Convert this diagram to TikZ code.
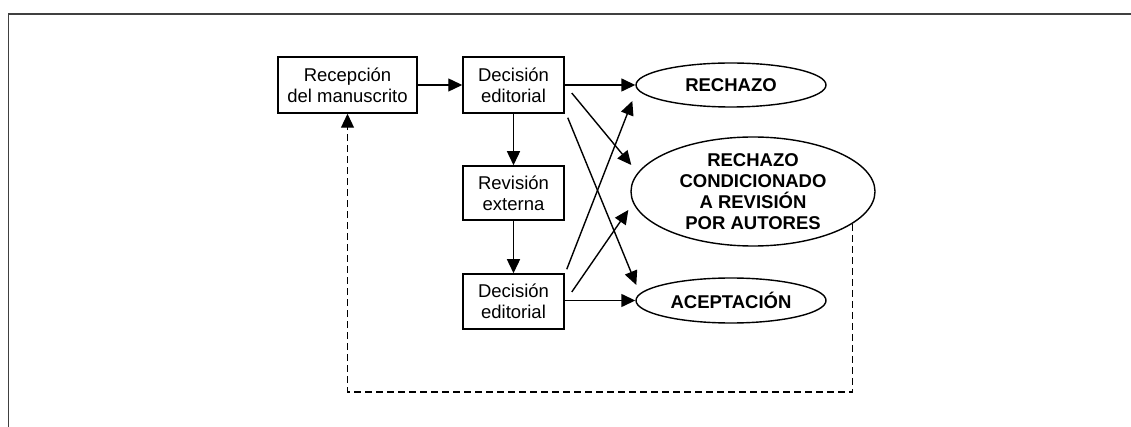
\documentclass[tikz,border=0pt]{standalone}
\usepackage{fontspec}
\setmainfont{Liberation Sans}
\usetikzlibrary{arrows.meta,shapes.geometric,calc}
\tikzset{
  box/.style={draw, line width=1.5pt, minimum width=101pt, minimum height=56pt, inner sep=0pt, align=center, font=\fontsize{18.5}{21}\selectfont},
  oval/.style={draw, ellipse, line width=1.4pt, inner sep=0pt},
  ovaltext/.style={align=center, inner sep=0pt, font=\fontsize{18.5}{21}\selectfont\bfseries},
  arr/.style={line width=1.4pt, -{Triangle[length=14pt,width=13pt]}},
  dashline/.style={line width=1.2pt, dash pattern=on 7pt off 4pt},
  frame/.style={line width=1.6pt, draw=black!75}
}
\begin{document}
\begin{tikzpicture}[x=1pt,y=-1pt]
\useasboundingbox (0,0) rectangle (1131,427);
\draw[frame] (8.5,427) -- (8.5,14) -- (1131,14);

\node[box, minimum width=139pt] (b1) at (347.5,85) {Recepción\\del manuscrito};
\node[box] (b2) at (513.5,85) {Decisión\\editorial};
\node[box, minimum height=54pt] (b3) at (513.5,193) {Revisión\\externa};
\node[box, minimum height=55pt] (b4) at (513.5,301.5) {Decisión\\editorial};

\node[oval, minimum width=190pt, minimum height=44pt] (e1) at (731,85) {};
\node[ovaltext] (t1) at (e1) {RECHAZO};
\node[oval, minimum width=244pt, minimum height=109pt] (e2) at (753,191.5) {};
\node[ovaltext] (t2) at (e2) {RECHAZO\\CONDICIONADO\\A REVISIÓN\\POR AUTORES};
\node[oval, minimum width=190pt, minimum height=45pt] (e3) at (731,300.5) {};
\node[ovaltext] (t3) at (e3) {ACEPTACIÓN};

\draw[arr] (b1) -- (b2);
\draw[arr] (b2) -- (e1);
\draw[arr] (b2) -- (b3);
\draw[arr] (b3) -- (b4);
\draw[arr] (b4.east |- e3.west) -- (e3.west);

\coordinate (s1) at ($(b2.east)+(7,8)$);
\coordinate (t2a) at ($(e2.west)+(1,-26.5)$);
\coordinate (s2) at ($(b2.south east)+(3,4)$);
\coordinate (t3a) at ($(e3.west)+(1,-15.5)$);
\coordinate (s3) at ($(b4.north east)+(2,-4)$);
\coordinate (t1a) at ($(e1.west)+(-3,16)$);
\coordinate (s4) at ($(b4.east)+(7,-9.5)$);
\coordinate (t2b) at ($(e2.west)+(-2,18.5)$);

\draw[arr] (s1) -- (t2a);
\draw[arr] (s2) -- (t3a);
\draw[arr] (s3) -- (t1a);
\draw[arr] (s4) -- (t2b);

\coordinate (dl) at (347.5,392);
\draw[dashline, -{Triangle[length=14pt,width=13pt]}] (e2.-18.5) |- (dl) -- (b1.south);
\end{tikzpicture}
\end{document}
